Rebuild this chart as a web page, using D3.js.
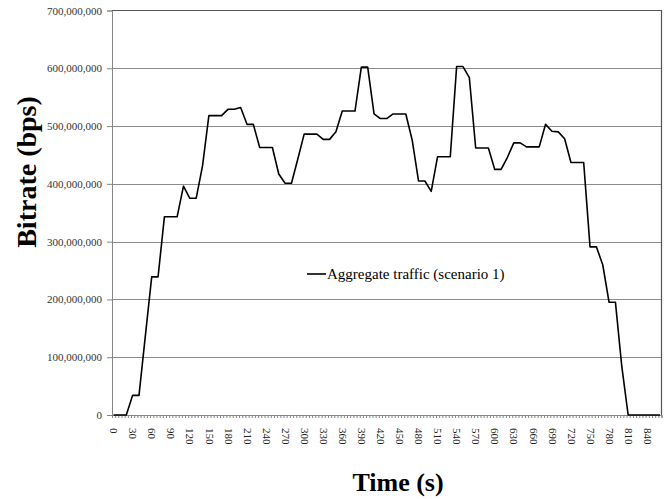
<!DOCTYPE html>
<html>
<head>
<meta charset="utf-8">
<script src="https://cdn.jsdelivr.net/npm/d3@7"></script>
<style>
  html, body { margin: 0; padding: 0; background: #fff; }
  svg, svg text { font-family: "Liberation Serif", "Times New Roman", serif !important; }
  svg { display: block; }
</style>
</head>
<body>
<svg id="chart" width="672" height="499"></svg>
<script>
// ---- data (seconds, bits per second) ----
const times = [0,10,20,30,40,50,60,70,80,90,100,110,120,130,140,150,160,170,180,190,200,
  210,220,230,240,250,260,270,280,290,300,310,320,330,340,350,360,370,380,390,400,
  410,420,430,440,450,460,470,480,490,500,510,520,530,540,550,560,570,580,590,600,
  610,620,630,640,650,660,670,680,690,700,710,720,730,740,750,760,770,780,790,800,
  810,820,830,840,850,860];
const bitrateMbps = [0,0,0,34,34,137,239,239,343,343,343,396,375,375,431,518,518,518,529,529,532,
  503,503,463,463,463,417,401,401,443,486,486,486,477,477,490,526,526,526,602,602,
  521,513,513,521,521,521,476,405,405,387,447,447,447,603,603,584,462,462,462,425,
  425,446,471,471,464,464,464,503,491,490,478,437,437,437,291,291,260,195,195,84,
  0,0,0,0,0,0];
const seriesName = "Aggregate traffic (scenario 1)";
const xTickLabels = d3.range(0, 841, 30);
const yTickValues = d3.range(0, 700000001, 100000000);
const categoryStep = 5;           // seconds per category on the axis
const xTitle = "Time (s)";
const yTitle = "Bitrate (bps)";

const data = times.map((t, i) => ({ t, v: bitrateMbps[i] * 1e6 }));

// ---- layout ----
const FONT = '"Liberation Serif", "Times New Roman", serif';
const svg = d3.select("#chart");
const pL = 112, pR = 661.5, pT = 10.5, pB = 415;

const x = d3.scaleLinear()
  .domain([-categoryStep / 2, 860 + categoryStep / 2])
  .range([pL, pR]);
const y = d3.scaleLinear().domain([0, 700000000]).range([pB, pT]);

// gridlines
svg.append("g").selectAll("line")
  .data(yTickValues.filter(v => v > 0 && v < 700000000))
  .join("line")
  .attr("x1", pL).attr("x2", pR)
  .attr("y1", d => Math.round(y(d)) + 0.5).attr("y2", d => Math.round(y(d)) + 0.5)
  .attr("stroke", "#8c8c8c").attr("stroke-width", 1);

// plot border (top / right)
svg.append("path")
  .attr("d", `M${pL},${pT}H${pR}V${pB}`)
  .attr("fill", "none").attr("stroke", "#555").attr("stroke-width", 1.2);

// y axis
const yAxis = svg.append("g")
  .attr("transform", `translate(${pL},0)`)
  .call(d3.axisLeft(y).tickValues(yTickValues).tickSize(5).tickPadding(5)
    .tickFormat(d3.format(",")));
yAxis.attr("font-family", null);
yAxis.select(".domain").attr("stroke", "#868686");
yAxis.selectAll(".tick line").attr("stroke", "#868686");
yAxis.selectAll(".tick text")
  .style("font-family", FONT)
  .style("font-size", "11px").attr("fill", "#333");

// x axis: category boundary ticks
const boundaries = d3.range(-categoryStep / 2, 860 + categoryStep, categoryStep);
const xAxisMinor = svg.append("g")
  .attr("transform", `translate(0,${pB})`)
  .call(d3.axisBottom(x).tickValues(boundaries).tickSize(3).tickFormat(""));
xAxisMinor.select(".domain").attr("stroke", "#868686");
xAxisMinor.selectAll(".tick line").attr("stroke", "#868686");

// x axis labels (rotated)
const xAxisLabels = svg.append("g")
  .attr("transform", `translate(0,${pB})`)
  .call(d3.axisBottom(x).tickValues(xTickLabels).tickSize(0).tickPadding(0));
xAxisLabels.attr("font-family", null);
xAxisLabels.select(".domain").remove();
xAxisLabels.selectAll(".tick text")
  .style("font-family", FONT)
  .style("font-size", "11px").attr("fill", "#222")
  .attr("text-anchor", "start")
  .attr("dy", "0.35em")
  .attr("transform", "translate(0,13) rotate(90)")
  .attr("x", 0).attr("y", 0);

// line
svg.append("path")
  .datum(data)
  .attr("fill", "none")
  .attr("stroke", "#000")
  .attr("stroke-width", 1.6)
  .attr("stroke-linejoin", "round")
  .attr("d", d3.line().x(d => x(d.t)).y(d => y(d.v)));

// legend
const lg = svg.append("g").attr("transform", "translate(307,274)");
lg.append("line").attr("x1", 0).attr("x2", 19).attr("y1", 0).attr("y2", 0)
  .attr("stroke", "#000").attr("stroke-width", 1.6);
lg.append("text").attr("x", 20).attr("y", 5)
  .style("font-family", FONT)
  .style("font-size", "15px").attr("fill", "#000").text(seriesName);

// titles
svg.append("text")
  .attr("x", 398).attr("y", 491)
  .attr("text-anchor", "middle")
  .style("font-family", FONT)
  .style("font-size", "26px").attr("font-weight", "bold")
  .text(xTitle);
svg.append("text")
  .attr("transform", "translate(36,172) rotate(-90)")
  .attr("text-anchor", "middle")
  .style("font-family", FONT)
  .style("font-size", "28px").attr("font-weight", "bold")
  .text(yTitle);
</script>
</body>
</html>
